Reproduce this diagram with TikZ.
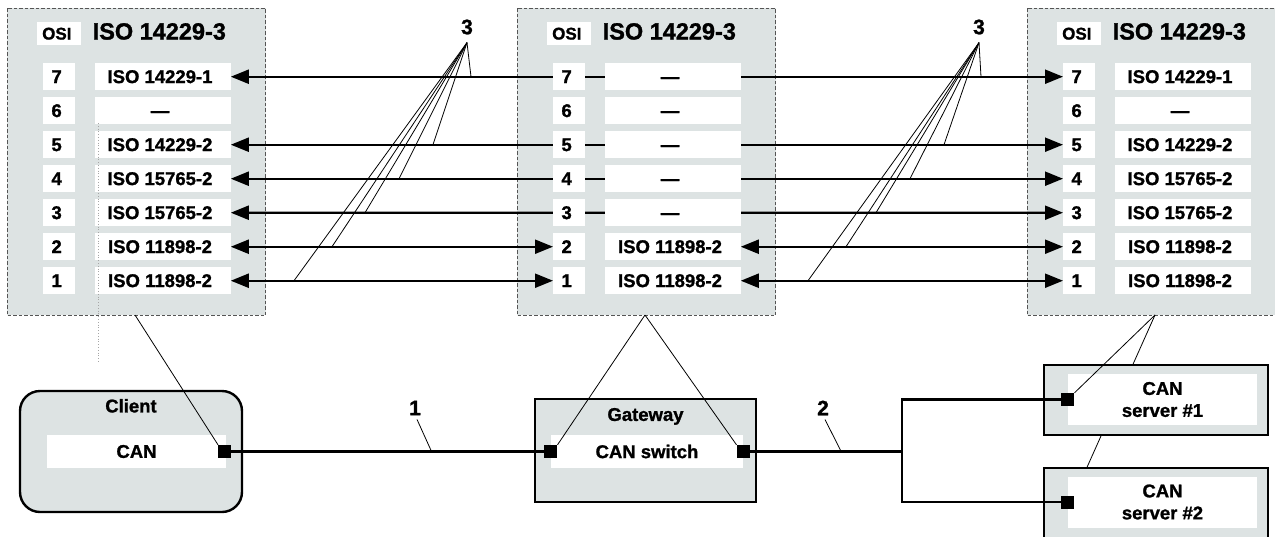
\documentclass[tikz,border=0pt]{standalone}
\usepackage{fontspec}
\setmainfont{Liberation Sans}[BoldFeatures={FakeBold=1.2}]
\usetikzlibrary{matrix,arrows.meta,positioning}
\pgfdeclarelayer{stackbg}
\pgfdeclarelayer{links}
\pgfsetlayers{stackbg,links,main}
\definecolor{osigray}{RGB}{221,227,227}
\definecolor{dashgray}{RGB}{85,85,85}
\newcommand\rowfont{\bfseries\fontsize{18.5}{22}\selectfont}
\newcommand\headfont{\bfseries\fontsize{23.5}{26}\selectfont}
\newcommand\osifont{\bfseries\fontsize{17}{20}\selectfont}
\newcommand\tagfont{\bfseries\fontsize{21}{24}\selectfont}

\tikzset{
  osistack/.style={matrix of nodes, ampersand replacement=\&, inner sep=0pt, anchor=north west,
    row sep=7pt, column sep=11.5pt,
    nodes={fill=white, inner sep=0pt, align=center, font=\rowfont, execute at begin node={\vphantom{0}}},
    column 1/.style={nodes={minimum width=32pt, minimum height=27pt}},
    column 2/.style={nodes={minimum width=136pt, minimum height=27pt}}},
  osihead/.style={minimum width=44pt, minimum height=23pt, font=\osifont},
  stdhead/.style={fill=none, minimum height=0pt, font=\headfont},
  stackbox/.style={draw=dashgray, fill=osigray, line width=0.8pt, dash pattern=on 3.5pt off 2pt},
  link/.style={line width=2.2pt, >={Triangle[length=18pt,width=14pt]}},
  callout/.style={line width=0.8pt},
  devbox/.style={draw, fill=osigray, line width=2.4pt},
  inbox/.style={fill=white, inner sep=0pt, font=\rowfont, align=center},
  lbl/.style={inner sep=0pt, font=\rowfont},
  tag/.style={inner sep=0pt, font=\tagfont},
  port/.style={fill=black, minimum size=13pt, inner sep=0pt},
  bus/.style={line width=2.4pt}
}

\begin{document}
\begin{tikzpicture}[x=1pt, y=-1pt]
  \useasboundingbox (0,0) rectangle (1275,536);

  % OSI stacks
  \matrix (L) [osistack] at (37,22) {
    |[osihead]| OSI \& |[stdhead]| ISO 14229-3 \\[11pt]
    7 \& ISO 14229-1 \\
    6 \& --- \\
    5 \& ISO 14229-2 \\
    4 \& ISO 15765-2 \\
    3 \& ISO 15765-2 \\
    2 \& ISO 11898-2 \\
    1 \& ISO 11898-2 \\
  };
  \matrix (M) [osistack] at (547,22) {
    |[osihead]| OSI \& |[stdhead]| ISO 14229-3 \\[11pt]
    7 \& --- \\
    6 \& --- \\
    5 \& --- \\
    4 \& --- \\
    3 \& --- \\
    2 \& ISO 11898-2 \\
    1 \& ISO 11898-2 \\
  };
  \matrix (R) [osistack] at (1057,22) {
    |[osihead]| OSI \& |[stdhead]| ISO 14229-3 \\[11pt]
    7 \& ISO 14229-1 \\
    6 \& --- \\
    5 \& ISO 14229-2 \\
    4 \& ISO 15765-2 \\
    3 \& ISO 15765-2 \\
    2 \& ISO 11898-2 \\
    1 \& ISO 11898-2 \\
  };

  \begin{pgfonlayer}{stackbg}
    \foreach \m in {L,M,R}
      \draw[stackbox] ([shift={(-30,-14)}]\m.north west) rectangle ([shift={(33,21)}]\m.south east);
  \end{pgfonlayer}

  % peer links
  \begin{pgfonlayer}{links}
    \foreach \r in {2,4,5,6}
      \draw[link, <->] (L-\r-2) -- (R-\r-1);
    \foreach \r in {7,8} {
      \draw[link, <->] (L-\r-2) -- (M-\r-1);
      \draw[link, <->] (M-\r-2) -- (R-\r-1);
    }
  \end{pgfonlayer}

  \draw[dotted, gray!70, line width=0.8pt] (98,123) -- (98,362);

  % callouts 3
  \node[tag] (t3L) at (467,27) {3};
  \node[tag] (t3R) at (979,27) {3};
  \coordinate[below=8pt of t3L] (c3L);
  \coordinate[below=8pt of t3R] (c3R);
  \foreach \r/\x in {2/471,4/433,5/399,6/365,7/332,8/294}
    \draw[callout] (c3L) -- (\x,0 |- L-\r-2);
  \foreach \r/\x in {2/981,4/944,5/910,6/876,7/846,8/808}
    \draw[callout] (c3R) -- (\x,0 |- R-\r-1);

  % devices
  \node[devbox, rounded corners=20pt, minimum width=222pt, minimum height=121pt] (client) at (131,451.5) {};
  \node[lbl, below=9pt of client.north] (clientlbl) {Client};
  \node[inbox, minimum width=179pt, minimum height=33pt] (clientcan) at (136.5,451.5) {CAN};
  \node[port] (clientport) at ([xshift=-1.5pt]clientcan.east) {};

  \node[devbox, minimum width=221pt, minimum height=103pt] (gw) at (645.5,450.5) {};
  \node[lbl, below=10pt of gw.north] (gwlbl) {Gateway};
  \node[inbox, minimum width=192pt, minimum height=33pt] (gwsw) at (647,451.5) {CAN switch};
  \node[port] (gwL) at (gwsw.west) {};
  \node[port] (gwR) at (gwsw.east) {};

  \node[devbox, minimum width=224pt, minimum height=70pt] (srv1) at (1156,400) {};
  \node[inbox, minimum width=189pt, minimum height=51pt] (srv1in) at (1162.5,399.5) {CAN\\server \#1};
  \node[port] (s1port) at (srv1in.west) {};

  \node[devbox, minimum width=224pt, minimum height=70pt] (srv2) at (1156,503) {};
  \node[inbox, minimum width=189pt, minimum height=51pt] (srv2in) at (1162.5,502) {CAN\\server \#2};
  \node[port] (s2port) at (srv2in.west) {};

  % bus
  \coordinate (jn) at (902,451.5);
  \draw[bus] (clientport) -- (gwL);
  \draw[bus] (gwR) -- (jn);
  \draw[bus] (s1port) -| (jn) |- (s2port);

  \node[tag] (lab1) at (415,408) {1};
  \node[tag] (lab2) at (823,408) {2};
  \path (clientport) -- (gwL) coordinate[pos=0.64] (b1);
  \path (gwR) -- (jn) coordinate[pos=0.6] (b2);
  \draw[callout] ([xshift=2pt,yshift=-4pt]lab1.south) -- (b1);
  \draw[callout] ([xshift=2pt,yshift=-4pt]lab2.south) -- (b2);

  % stack to device
  \coordinate (Lfoot) at (135,315);
  \coordinate (Mfoot) at (645,315);
  \coordinate (Rfoot) at (1155,315);
  \draw[callout] (Lfoot) -- (clientport.north west);
  \draw[callout] (Mfoot) -- (gwL.north east);
  \draw[callout] (Mfoot) -- (gwR.north west);
  \draw[callout] (Rfoot) -- (s1port.north east);
  \begin{pgfonlayer}{links}
    \draw[callout] (Rfoot) -- (s2port.north east);
  \end{pgfonlayer}
\end{tikzpicture}
\end{document}
